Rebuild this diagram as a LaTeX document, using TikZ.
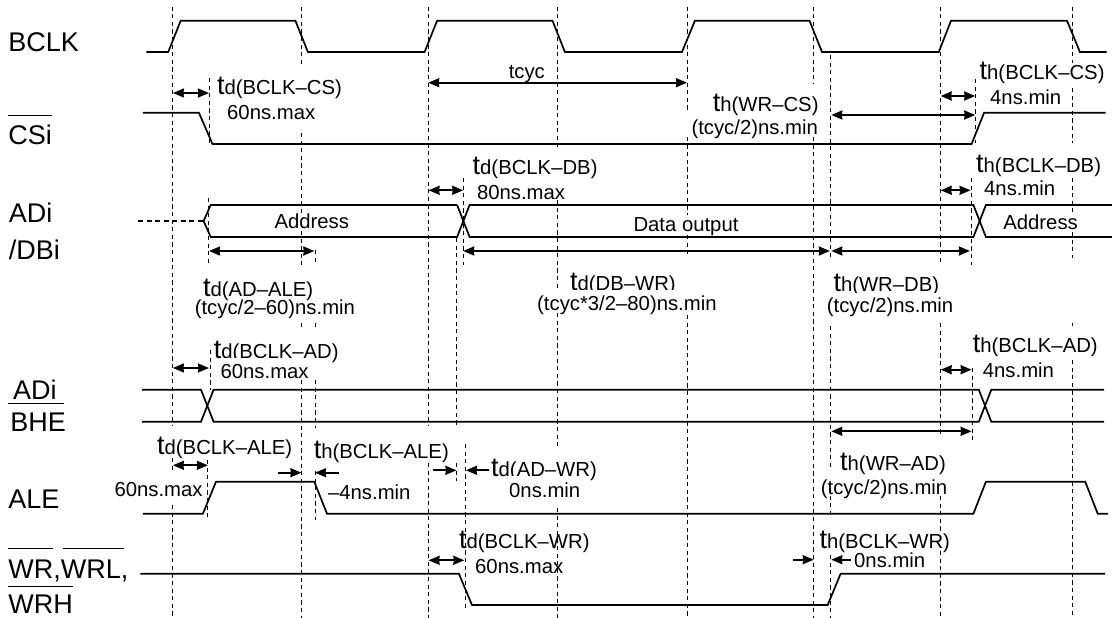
\documentclass[tikz,border=0pt]{standalone}
\usepackage{fontspec}
\setmainfont{Liberation Sans}
\usetikzlibrary{arrows.meta}
\newcommand{\tsub}[2]{{\fontsize{27}{27}\selectfont #1}{\fontsize{20.3}{20.3}\selectfont #2}}
\newcommand{\vsegs}[2]{\foreach \ya/\yb in {#2}{\draw[dashv] (#1,\ya) -- (#1,\yb);}}
\tikzset{
  sig/.style={line width=1.7pt,line join=miter},
  bar/.style={line width=1pt},
  dashv/.style={line width=1pt,dash pattern=on 4.2pt off 3.4pt},
  dim/.style={line width=1.8pt,{Stealth[length=11pt,width=9pt,inset=0.5pt]}-{Stealth[length=11pt,width=9pt,inset=0.5pt]}},
  one/.style={line width=1.8pt,-{Stealth[length=11pt,width=9pt,inset=0.5pt]}},
  big/.style={anchor=base west,inner sep=0pt,font=\fontsize{27}{27}\selectfont},
  txt/.style={anchor=base west,inner sep=0pt,font=\fontsize{20.3}{20.3}\selectfont},
  mid/.style={anchor=base,inner sep=0pt,font=\fontsize{20.3}{20.3}\selectfont},
  clipbox/.style={fill=white,text height=#1,text depth=0pt}
}
\begin{document}
\begin{tikzpicture}[x=1pt,y=-1pt]
\useasboundingbox (0,0) rectangle (1112,618);
% labels
\node[big] (lbclk) at (8.2,51.7) {BCLK};
\node[big] (lcs) at (8.2,144) {CSi};
\node[big] (lad) at (8.6,222.7) {ADi};
\node[big] (ldb) at (8.6,259.3) {/DBi};
\node[big] (lad2) at (13,399.7) {ADi};
\node[big] (lbhe) at (10.2,431.3) {BHE};
\node[big] (lale) at (8.2,508) {ALE};
\node[big] (lwr) at (8.2,578) {WR,WRL,};
\node[big] (lwrh) at (8.2,613.7) {WRH};
\draw[bar] (7.9,115.3) -- (52,115.3);
\draw[bar] (7.9,403) -- (64.3,403);
\draw[bar] (7.9,548.7) -- (52.5,548.7);
\draw[bar] (62.5,548.7) -- (123.6,548.7);
\draw[bar] (7.9,586.3) -- (72.5,586.3);
% timing texts
\node[mid] (tcyc) at (526.8,78.3) {tcyc};
\node[txt] (a1) at (216.8,95) {\tsub{t}{d(BCLK--CS)}};
\node[txt] (a2) at (227,119.7) {60ns.max};
\node[txt] (b1) at (979.5,80) {\tsub{t}{h(BCLK--CS)}};
\node[txt] (b2) at (990,104) {4ns.min};
\node[txt] (c1) at (712.7,111.7) {\tsub{t}{h(WR--CS)}};
\node[txt] (c2) at (691.3,134) {(tcyc/2)ns.min};
\node[txt] (d1) at (472.5,174) {\tsub{t}{d(BCLK--DB)}};
\node[txt] (d2) at (476.8,199) {80ns.max};
\node[txt] (e1) at (976,172.7) {\tsub{t}{h(BCLK--DB)}};
\node[txt] (e2) at (984,195) {4ns.min};
\node[mid] (addr1) at (311.8,228.7) {Address};
\node[mid] (data) at (686,231.7) {Data output};
\node[mid] (addr2) at (1040.6,229.3) {Address};
\node[txt] (f1) at (202.9,296.7) {\tsub{t}{d(AD--ALE)}};
\node[txt] (f2) at (194.6,314.7) {(tcyc/2--60)ns.min};
\node[txt] (g1) at (569.9,290.5) {\tsub{t}{d(DB--WR)}};
\node[txt,clipbox=20.5pt] (g2) at (537,310) {(tcyc*3/2--80)ns.min};
\node[txt] (h1) at (833.3,291) {\tsub{t}{h(WR--DB)}};
\node[txt,clipbox=20pt] (h2) at (826.7,312.7) {(tcyc/2)ns.min};
\node[txt] (i1) at (213.6,358.5) {\tsub{t}{d(BCLK--AD)}};
\node[txt,clipbox=20pt] (i2) at (220.4,378) {60ns.max};
\node[txt] (j1) at (972.7,352.7) {\tsub{t}{h(BCLK--AD)}};
\node[txt] (j2) at (982.7,377.3) {4ns.min};
\node[txt] (k1) at (840,470) {\tsub{t}{h(WR--AD)}};
\node[txt] (k2) at (820.7,494) {(tcyc/2)ns.min};
\node[txt] (l1) at (819.3,548) {\tsub{t}{h(BCLK--WR)}};
\node[txt] (l2) at (854,567.3) {0ns.min};
\node[txt] (m1) at (157,454) {\tsub{t}{d(BCLK--ALE)}};
\node[txt] (m2) at (114.3,496.3) {60ns.max};
\node[txt] (n1) at (313.6,458) {\tsub{t}{h(BCLK--ALE)}};
\node[txt] (n2) at (327.9,499.7) {--4ns.min};
\node[txt] (o1) at (491,476.5) {\tsub{t}{d(AD--WR)}};
\node[txt,clipbox=21.5pt] (o2) at (509,497.3) {0ns.min};
\node[txt] (p1) at (458.9,548) {\tsub{t}{d(BCLK--WR)}};
\node[txt] (p2) at (475,573) {60ns.max};
% dashed verticals
\vsegs{172.1}{6.7/426,458/471,505/618}
\vsegs{301.4}{6.7/65,133/213,231/265,323/330,380/618}
\vsegs{428.2}{6.7/426,463/618}
\vsegs{557.7}{6.7/147,200/288,313/446,508/618}
\vsegs{687}{6.7/110,137/215,235/255,315/618}
\vsegs{813.7}{6.7/83,137/618}
\vsegs{830.7}{55/258,326/468,488/518,555/618}
\vsegs{940.7}{6.7/262,323/437,496/532,551/618}
\vsegs{1072.2}{6.7/63,88/143,178/212,232/258,323/326,360/618}
\vsegs{209}{78/146}
\vsegs{208.2}{198/265}
\vsegs{315}{250/265,323/330,380/428,471/520}
\vsegs{463.2}{178/265}
\vsegs{456.4}{238/426,463/481}
\vsegs{465}{444/611}
\vsegs{210.7}{350/390}
\vsegs{207.9}{460/518}
\vsegs{975.2}{79/143}
\vsegs{971.7}{178/265}
\vsegs{972}{368/440}
% signals
\draw[sig] (146.4,52) -- (168.2,52) -- (180.7,20.7) -- (295.4,20.7) -- (307.9,52) -- (424.6,52) -- (437.1,20.7) -- (552.5,20.7) -- (564.9,52) -- (682,52) -- (694.9,20.7) -- (809.5,20.7) -- (822,52) -- (938.8,52) -- (951,20.7) -- (1067,20.7) -- (1079.9,52) -- (1106.6,52);
\draw[sig] (142.9,112.7) -- (198.9,112.7) -- (212.5,144) -- (971.6,144) -- (984.1,112.7) -- (1105.6,112.7);
\draw[sig,dash pattern=on 5pt off 3.5pt,line width=1.2pt] (138.2,221) -- (203.6,221);
\draw[sig] (457.1,205) -- (210.7,205) -- (203.6,221) -- (210.7,237) -- (457.1,237) -- (469.6,205) -- (973.4,205) -- (985.9,237) -- (1112,237);
\draw[sig] (457.1,205) -- (469.6,237) -- (973.4,237) -- (985.9,205) -- (1112,205);
\draw[sig] (141.8,389.7) -- (201,389.7) -- (213.6,421.7) -- (978.8,421.7) -- (991.3,389.7) -- (1104,389.7);
\draw[sig] (141.8,421.7) -- (201,421.7) -- (213.6,389.7) -- (978.8,389.7) -- (991.3,421.7) -- (1104,421.7);
\draw[sig] (142.9,513.7) -- (202.9,513.7) -- (216,481.7) -- (314.3,481.7) -- (327,513.7) -- (973.4,513.7) -- (985.9,481.7) -- (1085.2,481.7) -- (1097.7,513.7) -- (1108,513.7);
\draw[sig] (140.4,573.7) -- (458.9,573.7) -- (472,605) -- (827.7,605) -- (840.6,573.7) -- (1105,573.7);
% dimension arrows
\draw[dim] (428.2,82.7) -- (687,82.7);
\draw[dim] (172.9,93) -- (209,93);
\draw[dim] (940.7,96) -- (975.2,96);
\draw[dim] (831.3,115) -- (975.2,115);
\draw[dim] (428.6,190.3) -- (463.2,190.3);
\draw[dim] (940.7,190.3) -- (970.6,190.3);
\draw[dim] (209,251) -- (314.3,251);
\draw[dim] (463.2,251) -- (829.9,251);
\draw[dim] (831.3,251) -- (969.9,251);
\draw[dim] (172.9,368) -- (209,368);
\draw[dim] (940.7,369.7) -- (971.6,369.7);
\draw[dim] (831.3,431.3) -- (971.6,431.3);
\draw[dim] (172.9,465.3) -- (207.9,465.3);
\draw[dim] (428.6,560.3) -- (464.3,560.3);
\draw[one] (277.5,472.7) -- (301.4,472.7);
\draw[one] (338.6,472.7) -- (315,472.7);
\draw[one] (432.5,470.3) -- (456.4,470.3);
\draw[one] (489,470.3) -- (466,470.3);
\draw[one] (793.4,559.7) -- (813.7,559.7);
\draw[one] (850.9,559.7) -- (831.3,559.7);
\end{tikzpicture}
\end{document}
